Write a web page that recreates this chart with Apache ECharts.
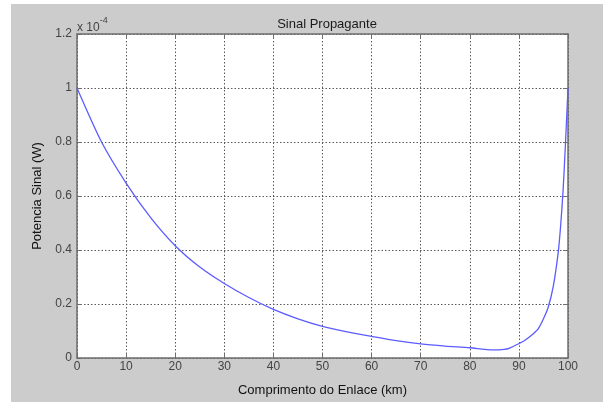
<!DOCTYPE html>
<html>
<head>
<meta charset="utf-8">
<script src="https://cdn.jsdelivr.net/npm/echarts@6/dist/echarts.min.js"></script>
<style>
  html, body { margin: 0; padding: 0; background: #ffffff; }
  #wrap { position: relative; width: 607px; height: 405px; background: #ffffff; }
  #chart { position: absolute; left: 11px; top: 4px; width: 592px; height: 398px; }
</style>
</head>
<body>
<div id="wrap"><div id="chart"></div></div>
<script>
// Distance along the link (km)
const distanceKm = [0, 5, 10, 15, 20, 25, 30, 35, 40, 45, 50, 55, 60, 65, 70, 75, 80, 83, 85, 87, 88, 90, 91, 92, 93, 94, 95, 96, 97, 98, 98.5, 99, 99.5, 100];
// Signal power (units of 1e-4 W)
const powerE4 = [1.0, 0.80, 0.648, 0.52, 0.416, 0.337, 0.276, 0.224, 0.18, 0.145, 0.117, 0.097, 0.080, 0.064, 0.052, 0.044, 0.038, 0.032, 0.030, 0.032, 0.036, 0.053, 0.063, 0.076, 0.091, 0.11, 0.145, 0.19, 0.265, 0.39, 0.49, 0.62, 0.80, 1.0];
const xTicks = [0, 10, 20, 30, 40, 50, 60, 70, 80, 90, 100];
const yTicks = [0, 0.2, 0.4, 0.6, 0.8, 1, 1.2];

const chart = echarts.init(document.getElementById('chart'), null, { renderer: 'canvas' });
const FONT = 'Liberation Sans, Arial, sans-serif';
const points = distanceKm.map((d, i) => [d, powerE4[i]]);
const axisCol = '#6e6e6e';
const gridCol = '#5a5a5a';

const baseX = {
  type: 'value', min: xTicks[0], max: xTicks[xTicks.length - 1], interval: 10,
  axisLine: { show: true, onZero: false, lineStyle: { color: axisCol, width: 1.5 } },
  axisTick: { show: true, inside: true, length: 5, lineStyle: { color: axisCol, width: 1 } },
};
const baseY = {
  type: 'value', min: yTicks[0], max: yTicks[yTicks.length - 1], interval: 0.2,
  axisLine: { show: true, onZero: false, lineStyle: { color: axisCol, width: 1.5 } },
  axisTick: { show: true, inside: true, length: 5, lineStyle: { color: axisCol, width: 1 } },
};

chart.setOption({
  backgroundColor: '#cccccc',
  animation: false,
  title: {
    text: 'Sinal Propagante', left: 311, top: 9, textAlign: 'center',
    textStyle: { fontFamily: FONT, fontSize: 13, fontWeight: 'normal', color: '#1a1a1a' }
  },
  grid: { left: 66, top: 30, right: 35, bottom: 40, show: true, backgroundColor: '#ffffff', borderWidth: 0 },
  xAxis: [
    Object.assign({}, baseX, {
      position: 'bottom',
      name: 'Comprimento do Enlace (km)', nameLocation: 'middle', nameGap: 26,
      nameTextStyle: { fontFamily: FONT, fontSize: 13, color: '#111' },
      axisLabel: { fontFamily: FONT, fontSize: 12, color: '#444', margin: 3 },
      splitLine: { show: true, lineStyle: { color: gridCol, width: 1, type: [1.5, 2] } }
    }),
    Object.assign({}, baseX, {
      position: 'top', axisLabel: { show: false }, splitLine: { show: false }
    })
  ],
  yAxis: [
    Object.assign({}, baseY, {
      position: 'left',
      name: 'Potencia Sinal (W)', nameLocation: 'middle', nameGap: 31,
      nameTextStyle: { fontFamily: FONT, fontSize: 13, color: '#111' },
      axisLabel: { fontFamily: FONT, fontSize: 12, color: '#444', margin: 5 },
      splitLine: { show: true, lineStyle: { color: gridCol, width: 1, type: [1.5, 2] } }
    }),
    Object.assign({}, baseY, {
      position: 'right', axisLabel: { show: false }, splitLine: { show: false }
    })
  ],
  graphic: [
    {
      type: 'text', left: 66, top: 12,
      style: {
        text: '{a|x 10}{b|-4}',
        rich: {
          a: { fontFamily: FONT, fontSize: 12, fill: '#444', padding: [6, 0, 0, 0] },
          b: { fontFamily: FONT, fontSize: 9, fill: '#444', verticalAlign: 'top', padding: [0, 0, 6, 0] }
        }
      }
    }
  ],
  series: [{
    type: 'line', xAxisIndex: 0, yAxisIndex: 0,
    data: points, showSymbol: false, smooth: 0.25,
    lineStyle: { color: '#5c5cff', width: 1.3 },
    clip: true
  }]
});
</script>
</body>
</html>
